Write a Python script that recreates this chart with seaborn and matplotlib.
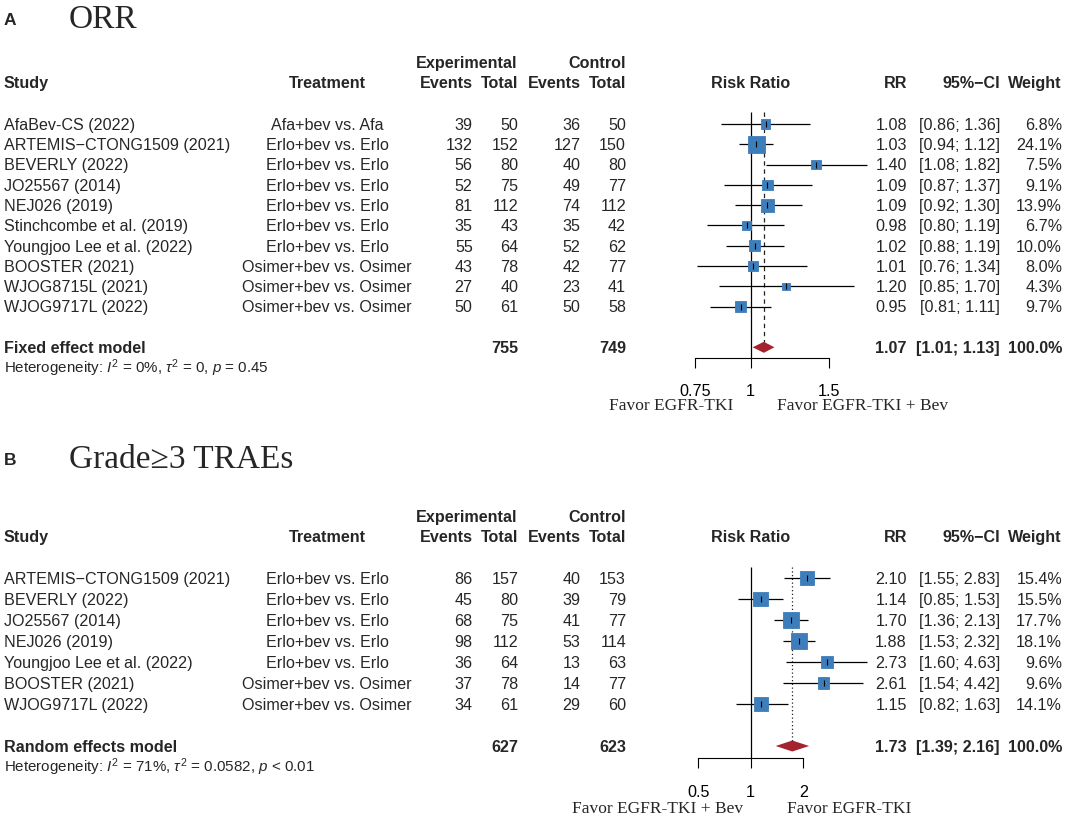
import numpy as np
import pandas as pd
import seaborn as sns
import matplotlib.pyplot as plt
from matplotlib.ticker import FixedLocator, NullLocator

# === Panel A: ORR ===
studies_a = ["AfaBev-CS (2022)", "ARTEMIS\u2212CTONG1509 (2021)", "BEVERLY (2022)",
             "JO25567 (2014)", "NEJ026 (2019)", "Stinchcombe et al. (2019)",
             "Youngjoo Lee et al. (2022)", "BOOSTER (2021)", "WJOG8715L (2021)",
             "WJOG9717L (2022)"]
treat_a = ["Afa+bev vs. Afa"] + ["Erlo+bev vs. Erlo"] * 6 + ["Osimer+bev vs. Osimer"] * 3
exp_ev_a = [39, 132, 56, 52, 81, 35, 55, 43, 27, 50]
exp_n_a = [50, 152, 80, 75, 112, 43, 64, 78, 40, 61]
ctl_ev_a = [36, 127, 40, 49, 74, 35, 52, 42, 23, 50]
ctl_n_a = [50, 150, 80, 77, 112, 42, 62, 77, 41, 58]
rr_a = [1.08, 1.03, 1.40, 1.09, 1.09, 0.98, 1.02, 1.01, 1.20, 0.95]
lo_a = [0.86, 0.94, 1.08, 0.87, 0.92, 0.80, 0.88, 0.76, 0.85, 0.81]
hi_a = [1.36, 1.12, 1.82, 1.37, 1.30, 1.19, 1.19, 1.34, 1.70, 1.11]
weight_a = [6.8, 24.1, 7.5, 9.1, 13.9, 6.7, 10.0, 8.0, 4.3, 9.7]
pooled_a = (1.07, 1.01, 1.13)
totals_a = (755, 749)
ticks_a = [0.75, 1, 1.5]
het_a = r"Heterogeneity: $I^2$ = 0%, $\tau^2$ = 0, $p$ = 0.45"

# === Panel B: Grade>=3 TRAEs ===
studies_b = ["ARTEMIS\u2212CTONG1509 (2021)", "BEVERLY (2022)", "JO25567 (2014)",
             "NEJ026 (2019)", "Youngjoo Lee et al. (2022)", "BOOSTER (2021)",
             "WJOG9717L (2022)"]
treat_b = ["Erlo+bev vs. Erlo"] * 5 + ["Osimer+bev vs. Osimer"] * 2
exp_ev_b = [86, 45, 68, 98, 36, 37, 34]
exp_n_b = [157, 80, 75, 112, 64, 78, 61]
ctl_ev_b = [40, 39, 41, 53, 13, 14, 29]
ctl_n_b = [153, 79, 77, 114, 63, 77, 60]
rr_b = [2.10, 1.14, 1.70, 1.88, 2.73, 2.61, 1.15]
lo_b = [1.55, 0.85, 1.36, 1.53, 1.60, 1.54, 0.82]
hi_b = [2.83, 1.53, 2.13, 2.32, 4.63, 4.42, 1.63]
weight_b = [15.4, 15.5, 17.7, 18.1, 9.6, 9.6, 14.1]
pooled_b = (1.73, 1.39, 2.16)
totals_b = (627, 623)
ticks_b = [0.5, 1, 2]
het_b = r"Heterogeneity: $I^2$ = 71%, $\tau^2$ = 0.0582, $p$ < 0.01"

# === Style ===
sns.set_style("white")
SANS = ["Liberation Sans", "DejaVu Sans"]
SERIF = ["Liberation Serif", "DejaVu Serif"]
plt.rcParams["font.family"] = SANS
plt.rcParams["mathtext.fontset"] = "custom"
plt.rcParams["mathtext.rm"] = "Liberation Sans"
plt.rcParams["mathtext.it"] = "Liberation Sans:italic"
plt.rcParams["mathtext.bf"] = "Liberation Sans:bold"

W, H = 1065, 816
FS = 11.6
BLUE = "#3d7dba"
RED = "#a3232f"
X_REF = 750.7

fig = plt.figure(figsize=(W / 100, H / 100), dpi=100)
fig.patch.set_facecolor("white")
bg = fig.add_axes([0, 0, 1, 1])
bg.set_xlim(0, W)
bg.set_ylim(H, 0)
bg.axis("off")


def put(x, y, s, ha="left", bold=False, size=FS, serif=False):
    # y is the visual middle of the capitals
    off = size * (0.46 if serif else 0.497)
    bg.text(x, y + off, s, ha=ha, va="baseline", fontsize=size,
            fontweight="bold" if bold else "normal", family=SERIF if serif else SANS)


def forest(letter, title, lay, studies, treat, ev_e, n_e, ev_c, n_c, rr, lo, hi, wts,
           model, pooled, totals, het, ticks, left_lab, right_lab):
    n = len(studies)
    rows = lay["row0"] + lay["pitch"] * np.arange(n)
    y_pool = lay["row0"] + lay["pitch"] * (n + 1)
    y_het = y_pool + lay["pitch"]
    h1, h2 = lay["row0"] - 62, lay["row0"] - 42

    put(4, lay["title_y"] + 2, letter, bold=True, size=12.5)
    put(69, lay["title_y"], title, size=24, serif=True)

    # headers
    put(517, h1, "Experimental", ha="right", bold=True)
    put(626, h1, "Control", ha="right", bold=True)
    for x, s, ha in [(4, "Study", "left"), (327, "Treatment", "center"),
                     (472.7, "Events", "right"), (518.3, "Total", "right"),
                     (580.7, "Events", "right"), (626, "Total", "right"),
                     (751, "Risk Ratio", "center"), (907, "RR", "right"),
                     (1000, "95%\u2212CI", "right"), (1062, "Weight", "right")]:
        put(x, h2, s, ha=ha, bold=True)

    # study rows
    for i in range(n):
        y = rows[i]
        put(4, y, studies[i])
        put(327, y, treat[i], ha="center")
        put(472.7, y, str(ev_e[i]), ha="right")
        put(518.3, y, str(n_e[i]), ha="right")
        put(580.7, y, str(ev_c[i]), ha="right")
        put(626, y, str(n_c[i]), ha="right")
        put(907, y, f"{rr[i]:.2f}", ha="right")
        put(1000, y, f"[{lo[i]:.2f}; {hi[i]:.2f}]", ha="right")
        put(1062, y, f"{wts[i]:.1f}%", ha="right")

    # pooled row
    put(4, y_pool, model, bold=True)
    put(518.3, y_pool, str(totals[0]), ha="right", bold=True)
    put(626, y_pool, str(totals[1]), ha="right", bold=True)
    put(907, y_pool, f"{pooled[0]:.2f}", ha="right", bold=True)
    put(1000, y_pool, f"[{pooled[1]:.2f}; {pooled[2]:.2f}]", ha="right", bold=True)
    put(1062, y_pool, "100.0%", ha="right", bold=True)
    put(4, y_het, het, size=10.9)

    # forest axes on a log scale
    k = lay["scale"]
    x0 = X_REF + k * np.log(lay["xlim"][0])
    x1 = X_REF + k * np.log(lay["xlim"][1])
    ytop, ybot = lay["ref_top"] - 10, lay["axis_y"] + 60
    ax = fig.add_axes([x0 / W, 1 - ybot / H, (x1 - x0) / W, (ybot - ytop) / H])
    ax.patch.set_alpha(0)

    df = pd.DataFrame({"rr": rr, "y": rows, "w": wts})
    ax.hlines(rows, lo, hi, color="black", lw=0.9, zorder=2)
    sns.scatterplot(data=df, x="rr", y="y", size="w", sizes=(0, lay["sq_max"]),
                    size_norm=(0, max(wts)), marker="s", color=BLUE,
                    edgecolor=BLUE, linewidth=0.6, legend=False, ax=ax, zorder=3)
    sns.scatterplot(data=df, x="rr", y="y", marker="|", s=20, color="black",
                    linewidth=0.8, legend=False, ax=ax, zorder=4)

    est, plo, phi = pooled
    ax.fill([plo, est, phi, est], [y_pool, y_pool - 5.5, y_pool, y_pool + 5.5],
            color=RED, lw=0, zorder=3)
    ax.vlines(1, lay["ref_top"], lay["axis_y"], color="black", lw=0.9, zorder=1)
    ax.vlines(est, lay["ref_top"], y_pool - 5, color="#222222", lw=0.9,
              linestyles=lay["pool_ls"], zorder=1)

    ax.set_xscale("log")
    ax.set_xlim(*lay["xlim"])
    ax.set_ylim(ybot, ytop)
    ax.xaxis.set_major_locator(FixedLocator(ticks))
    ax.xaxis.set_minor_locator(NullLocator())
    ax.set_xticklabels([f"{t:g}" for t in ticks])
    ax.tick_params(axis="x", direction="out", length=7.2, width=0.8,
                   pad=lay["pad"], labelsize=FS, colors="black", bottom=True)
    ax.set_yticks([])
    ax.set_xlabel("")
    ax.set_ylabel("")
    for side in ["top", "left", "right"]:
        ax.spines[side].set_visible(False)
    ax.spines["bottom"].set_position(("data", lay["axis_y"]))
    ax.spines["bottom"].set_bounds(ticks[0], ticks[-1])
    ax.spines["bottom"].set_linewidth(0.8)
    ax.spines["bottom"].set_color("black")

    put(lay["lab_l"], lay["fav_y"], left_lab, ha="right", size=12.5, serif=True)
    put(lay["lab_r"], lay["fav_y"], right_lab, ha="left", size=12.5, serif=True)


lay_a = dict(title_y=17, row0=124, pitch=20.3, scale=194, xlim=(0.70, 1.90),
             ref_top=112, axis_y=358, pool_ls=(0, (3.5, 3)), pad=11.5,
             fav_y=404, lab_l=733, lab_r=777, sq_max=152)
lay_b = dict(title_y=457, row0=578, pitch=21, scale=75.9, xlim=(0.40, 5.0),
             ref_top=567, axis_y=758, pool_ls=(0, (1, 2)), pad=12,
             fav_y=807, lab_l=743, lab_r=787, sq_max=130)

forest("A", "ORR", lay_a, studies_a, treat_a, exp_ev_a, exp_n_a, ctl_ev_a, ctl_n_a,
       rr_a, lo_a, hi_a, weight_a, "Fixed effect model", pooled_a, totals_a, het_a,
       ticks_a, "Favor EGFR-TKI", "Favor EGFR-TKI + Bev")
forest("B", "Grade\u22653 TRAEs", lay_b, studies_b, treat_b, exp_ev_b, exp_n_b, ctl_ev_b,
       ctl_n_b, rr_b, lo_b, hi_b, weight_b, "Random effects model", pooled_b, totals_b,
       het_b, ticks_b, "Favor EGFR-TKI + Bev", "Favor EGFR-TKI")

fig.savefig("out.png", dpi=100, facecolor="white")
